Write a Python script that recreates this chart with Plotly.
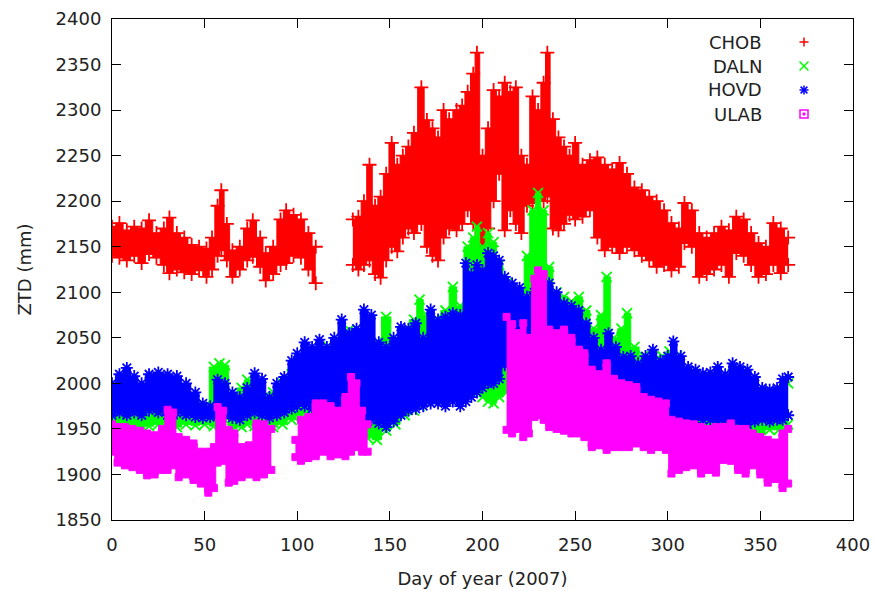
import plotly.graph_objects as go

# ---------------- data ----------------
# each series: sample days with the low and high edge of the point cloud
chob_days = [0, 4, 8, 12, 16, 20, 24, 28, 31, 35, 39, 43, 47, 51, 54, 57, 59, 62, 65, 69, 73, 76, 80, 83, 87, 91, 94, 98, 102, 106, 110,
             130, 133, 136, 139, 142, 145, 148, 151, 154, 157, 160, 163, 167, 170, 173, 176, 179, 182, 186, 189, 192, 195, 197, 200,
             203, 206, 209, 212, 215, 218, 221, 224, 227, 230, 233, 235, 238, 241, 244, 247, 250, 254, 258, 262, 266, 270, 274, 278,
             282, 286, 290, 294, 298, 302, 306, 309, 313, 317, 321, 325, 329, 333, 337, 341, 345, 349, 353, 357, 361, 365]
chob_lo = [2140, 2138, 2135, 2140, 2132, 2142, 2138, 2130, 2121, 2125, 2122, 2120, 2124, 2117, 2125, 2140, 2146, 2135, 2117, 2125, 2135, 2139, 2128, 2113, 2120, 2130, 2132, 2140, 2138, 2125, 2110,
           2130, 2125, 2130, 2135, 2120, 2116, 2135, 2150, 2145, 2160, 2170, 2165, 2175, 2150, 2140, 2135, 2160, 2170, 2168, 2175, 2190, 2175, 2150, 2135,
           2170, 2200, 2230, 2168, 2190, 2175, 2165, 2195, 2198, 2200, 2200, 2205, 2170, 2168, 2175, 2185, 2180, 2183, 2190, 2160, 2146, 2150, 2143, 2150,
           2146, 2140, 2135, 2128, 2130, 2124, 2128, 2154, 2150, 2117, 2120, 2125, 2130, 2117, 2143, 2140, 2130, 2117, 2120, 2130, 2121, 2130]
chob_hi = [2172, 2176, 2168, 2172, 2170, 2179, 2165, 2170, 2182, 2165, 2160, 2152, 2150, 2148, 2160, 2195, 2212, 2175, 2146, 2150, 2170, 2179, 2160, 2143, 2150, 2180, 2190, 2185, 2180, 2165, 2150,
           2180, 2183, 2200, 2240, 2195, 2205, 2230, 2264, 2240, 2250, 2260, 2275, 2325, 2289, 2280, 2270, 2300, 2290, 2300, 2305, 2320, 2340, 2363, 2250,
           2280, 2322, 2315, 2330, 2320, 2325, 2250, 2240, 2315, 2300, 2330, 2363, 2290, 2270, 2260, 2250, 2264, 2240, 2245, 2248, 2240, 2235, 2242, 2230,
           2215, 2212, 2205, 2200, 2190, 2176, 2170, 2198, 2190, 2165, 2160, 2165, 2172, 2168, 2183, 2180, 2165, 2154, 2150, 2176, 2170, 2160]

daln_days = [0, 5, 10, 15, 20, 25, 30, 35, 40, 45, 50, 55, 58, 61, 65, 70, 73, 77, 82, 87, 92, 97, 102, 107, 112, 117, 122, 128, 133, 138,
             143, 148, 153, 158, 163, 166, 170, 175, 180, 184, 188, 192, 195, 197, 200, 203, 206, 209, 213, 217, 221, 224, 227, 230, 233,
             236, 240, 244, 248, 252, 256, 260, 264, 267, 271, 275, 278, 282, 287, 292, 297, 301, 305, 310, 315, 320, 325, 330, 335, 340,
             345, 350, 355, 360, 365]
daln_lo = [1950, 1952, 1955, 1950, 1953, 1955, 1950, 1952, 1955, 1954, 1955, 1953, 1955, 1960, 1950, 1952, 1955, 1953, 1950, 1952, 1955, 1960, 1965, 1963, 1955, 1952, 1950, 1955, 1945, 1940,
           1938, 1948, 1955, 1965, 1970, 1975, 1980, 1985, 1985, 1990, 2000, 1995, 1990, 2000, 1985, 1980, 1978, 1985, 1990, 2005, 2000, 2010, 2020, 2030, 2010,
           2000, 1990, 1985, 1980, 1975, 1970, 1965, 1960, 1960, 1955, 1955, 1955, 1952, 1950, 1950, 1945, 1948, 1952, 1952, 1950, 1950, 1948, 1950, 1945, 1942,
           1940, 1945, 1949, 1949, 1955]
daln_hi = [1985, 1990, 1995, 1985, 1990, 1995, 1990, 1985, 1980, 1975, 1975, 2018, 2022, 2020, 1980, 1995, 2004, 1990, 1985, 1990, 2000, 2010, 2020, 2025, 2030, 2040, 2045, 2059, 2040, 2050,
           2045, 2073, 2040, 2055, 2070, 2092, 2075, 2070, 2080, 2106, 2085, 2150, 2160, 2172, 2150, 2165, 2155, 2130, 2110, 2080, 2095, 2140, 2190, 2209, 2190,
           2128, 2100, 2095, 2090, 2095, 2080, 2060, 2075, 2117, 2050, 2060, 2077, 2040, 2030, 2030, 2030, 2035, 2030, 2010, 2005, 2005, 2000, 2005, 2010, 2005,
           2000, 1990, 1985, 1990, 2000]

hovd_days = [0, 4, 8, 12, 16, 20, 25, 30, 35, 40, 45, 49, 53, 57, 61, 65, 69, 73, 77, 81, 85, 89, 93, 97, 100, 104, 108, 112, 116, 120, 124,
             128, 132, 136, 140, 144, 148, 152, 156, 160, 164, 168, 172, 176, 180, 184, 188, 191, 194, 197, 200, 203, 206, 209, 212, 216,
             220, 224, 228, 232, 236, 240, 244, 248, 252, 256, 260, 264, 268, 272, 276, 280, 284, 288, 292, 296, 300, 303, 307, 311, 315,
             319, 323, 327, 331, 335, 339, 343, 347, 351, 355, 359, 362, 365]
hovd_lo = [1965, 1968, 1965, 1968, 1965, 1970, 1968, 1965, 1967, 1965, 1963, 1962, 1963, 1965, 1965, 1962, 1960, 1965, 1968, 1965, 1962, 1965, 1968, 1972, 1975, 1975, 1972, 1970, 1965, 1965, 1968,
           1962, 1960, 1958, 1960, 1956, 1952, 1958, 1965, 1970, 1972, 1975, 1978, 1978, 1975, 1980, 1975, 1980, 1985, 1990, 1995, 2000, 2000, 2005, 2020, 2029,
           2025, 2020, 2010, 2000, 1990, 1985, 1980, 1978, 1975, 1972, 1970, 1968, 1968, 1965, 1962, 1960, 1960, 1958, 1958, 1958, 1956, 1956, 1958, 1958, 1960,
           1960, 1960, 1958, 1960, 1958, 1956, 1955, 1958, 1960, 1958, 1960, 1960, 1965]
hovd_hi = [2000, 2010, 2017, 2008, 2000, 2010, 2012, 2010, 2008, 2000, 1990, 1978, 1975, 2004, 2000, 1990, 1985, 1995, 2011, 2005, 1985, 2000, 2007, 2025, 2033, 2045, 2040, 2048, 2040, 2050, 2070,
           2055, 2060, 2081, 2075, 2045, 2040, 2050, 2062, 2060, 2066, 2050, 2081, 2070, 2073, 2077, 2075, 2132, 2120, 2130, 2124, 2143, 2140, 2135, 2117, 2110,
           2105, 2095, 2100, 2090, 2110, 2100, 2088, 2085, 2080, 2066, 2050, 2037, 2055, 2040, 2029, 2030, 2022, 2030, 2037, 2025, 2030, 2046, 2030, 2018, 2015,
           2011, 2012, 2018, 2010, 2022, 2018, 2015, 2007, 1995, 1993, 1995, 2005, 2007]

ulab_days = [0, 3, 7, 11, 15, 19, 23, 27, 30, 33, 36, 40, 44, 48, 52, 55, 57, 60, 63, 66, 70, 74, 78, 82, 86,
             99, 102, 106, 110, 114, 118, 122, 126, 129, 132, 135, 138,
             213, 216, 219, 222, 225, 228, 230, 233, 236, 240, 244, 248, 252, 255, 259, 263, 267, 271, 275, 279, 283, 287, 291, 295,
             299, 302, 306, 310, 314, 318, 322, 326, 330, 334, 338, 342, 346, 350, 354, 358, 362, 365]
ulab_lo = [1925, 1913, 1910, 1908, 1905, 1899, 1900, 1905, 1905, 1910, 1897, 1900, 1894, 1890, 1880, 1885, 1913, 1915, 1891, 1893, 1897, 1900, 1897, 1900, 1905,
           1919, 1915, 1918, 1920, 1925, 1920, 1922, 1920, 1925, 1930, 1925, 1925,
           1949, 1945, 1950, 1941, 1945, 1963, 1965, 1960, 1952, 1950, 1948, 1945, 1945, 1941, 1930, 1932, 1927, 1930, 1930, 1930, 1934, 1930, 1927, 1930,
           1927, 1901, 1905, 1908, 1910, 1901, 1905, 1902, 1916, 1915, 1905, 1901, 1910, 1900, 1891, 1895, 1885, 1890]
ulab_hi = [1955, 1952, 1952, 1950, 1948, 1945, 1943, 1950, 1971, 1968, 1941, 1938, 1934, 1925, 1925, 1930, 1974, 1970, 1949, 1945, 1930, 1932, 1956, 1955, 1950,
           1938, 1960, 1963, 1978, 1978, 1975, 1970, 1985, 2007, 2000, 1970, 1955,
           2073, 2065, 2055, 2066, 2050, 2115, 2124, 2120, 2059, 2055, 2059, 2050, 2037, 2033, 2015, 2010, 2022, 2005, 2000, 1998, 1996, 1985, 1982, 1980,
           1978, 1960, 1958, 1956, 1955, 1952, 1950, 1952, 1952, 1956, 1950, 1950, 1945, 1941, 1938, 1935, 1945, 1950]

series_names = ["CHOB", "DALN", "HOVD", "ULAB"]
x_ticks = [0, 50, 100, 150, 200, 250, 300, 350, 400]
y_ticks = [1850, 1900, 1950, 2000, 2050, 2100, 2150, 2200, 2250, 2300, 2350, 2400]

# ---------------- styling ----------------
colors = {"CHOB": "#ff0000", "DALN": "#00ff00", "HOVD": "#0000ff", "ULAB": "#ff00ff"}
symbols = {"CHOB": "cross-thin", "DALN": "x-thin", "HOVD": "asterisk", "ULAB": "square"}
data = {
    "CHOB": (chob_days, chob_lo, chob_hi),
    "DALN": (daln_days, daln_lo, daln_hi),
    "HOVD": (hovd_days, hovd_lo, hovd_hi),
    "ULAB": (ulab_days, ulab_lo, ulab_hi),
}


def segments(days, lo, hi, gap=8):
    segs, start = [], 0
    for i in range(1, len(days)):
        if days[i] - days[i - 1] > gap:
            segs.append((days[start:i], lo[start:i], hi[start:i]))
            start = i
    segs.append((days[start:], lo[start:], hi[start:]))
    return segs


fig = go.Figure()
for name in series_names:
    c = colors[name]
    sym = symbols[name]
    mk = dict(symbol=sym, size=10, color=c, line=dict(color=c, width=1.8))
    if name == "ULAB":
        mk = dict(symbol="square", size=7, color=c, line=dict(color=c, width=1))
    for d, lo, hi in segments(*data[name]):
        fig.add_trace(go.Scatter(x=d, y=lo, mode="lines+markers", marker=mk,
                                 line=dict(width=1, color=c, shape="hvh"), showlegend=False,
                                 hoverinfo="skip", name=name))
        fig.add_trace(go.Scatter(x=d, y=hi, mode="lines+markers", marker=mk,
                                 line=dict(width=1, color=c, shape="hvh"), fill="tonexty",
                                 fillcolor=c, showlegend=False, name=name))

FONT = "DejaVu Sans"
FS = 18
W, H = 876, 591
ML, MR, MT, MB = 112, 23, 19, 71
PW, PH = W - ML - MR, H - MT - MB

axis_common = dict(showgrid=False, zeroline=False, showline=True, linecolor="black",
                   linewidth=1, mirror="ticks", ticks="inside", ticklen=9,
                   tickcolor="black", tickwidth=1, automargin=False,
                   tickfont=dict(family=FONT, size=FS, color="#222222"))

fig.update_layout(
    width=W, height=H, autosize=False,
    margin=dict(l=ML, r=MR, t=MT, b=MB),
    paper_bgcolor="white", plot_bgcolor="white",
    xaxis=dict(range=[0, 400], tickvals=x_ticks, ticklabelstandoff=8,
               title=dict(text="Day of year (2007)", font=dict(family=FONT, size=FS, color="#222222"), standoff=18),
               **axis_common),
    yaxis=dict(range=[1850, 2400], tickvals=y_ticks, ticklabelstandoff=6,
               title=dict(text="ZTD (mm)", font=dict(family=FONT, size=FS, color="#222222"), standoff=19),
               **axis_common),
)


# ---------------- legend (text left, key right, like gnuplot) ----------------
def px_x(p):
    return (p - ML) / PW


def px_y(p):
    return 1 - (p - MT) / PH


legend_rows = [42, 66, 90, 114]
shapes = []
for name, yp in zip(series_names, legend_rows):
    fig.add_annotation(x=px_x(764), y=px_y(yp), xref="paper", yref="paper", text=name,
                       showarrow=False, xanchor="right", yanchor="middle",
                       font=dict(family=FONT, size=FS, color="#222222"))
    cx, c = 804, colors[name]
    r = 4.5
    ln = dict(color=c, width=1.5)
    if name in ("CHOB", "HOVD"):
        shapes.append(dict(type="line", xref="paper", yref="paper", x0=px_x(cx - r), x1=px_x(cx + r), y0=px_y(yp), y1=px_y(yp), line=ln))
        shapes.append(dict(type="line", xref="paper", yref="paper", x0=px_x(cx), x1=px_x(cx), y0=px_y(yp - r), y1=px_y(yp + r), line=ln))
    if name in ("DALN", "HOVD"):
        rr = r if name == "DALN" else 3.4
        shapes.append(dict(type="line", xref="paper", yref="paper", x0=px_x(cx - rr), x1=px_x(cx + rr), y0=px_y(yp - rr), y1=px_y(yp + rr), line=ln))
        shapes.append(dict(type="line", xref="paper", yref="paper", x0=px_x(cx - rr), x1=px_x(cx + rr), y0=px_y(yp + rr), y1=px_y(yp - rr), line=ln))
    if name == "ULAB":
        shapes.append(dict(type="rect", xref="paper", yref="paper", x0=px_x(cx - 4), x1=px_x(cx + 4), y0=px_y(yp - 4), y1=px_y(yp + 4), line=ln))
        shapes.append(dict(type="rect", xref="paper", yref="paper", x0=px_x(cx - 1), x1=px_x(cx + 1), y0=px_y(yp - 1), y1=px_y(yp + 1), line=dict(color=c, width=1), fillcolor=c))
fig.update_layout(shapes=shapes)

fig.write_html("out.html", config={"displayModeBar": False},
               post_script="document.body.style.margin='0px';document.body.style.overflow='hidden';")
